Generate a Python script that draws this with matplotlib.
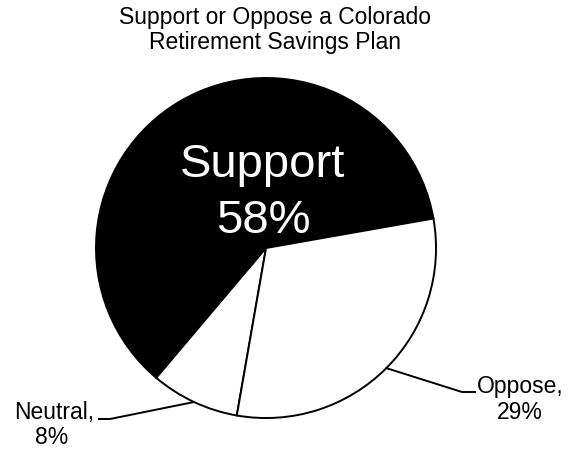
import numpy as np
import matplotlib
matplotlib.use("Agg")
import matplotlib.pyplot as plt

plt.rcParams['font.family'] = ['Liberation Sans', 'DejaVu Sans']

title = "Support or Oppose a Colorado\nRetirement Savings Plan"
labels = ["Support", "Neutral", "Oppose"]
values = [58, 8, 29]
colors = ["black", "white", "white"]
explode = [0.0, 0.0, 0.03]

W, H = 570, 449
fig = plt.figure(figsize=(W / 100, H / 100), dpi=100)
ax = fig.add_axes([0, 0, 1, 1])
ax.set_aspect('equal')
ax.axis('off')

cx, cy, r = 266, H - 248, 170
wedges, _ = ax.pie(values, colors=colors, startangle=10, counterclock=True,
                   explode=explode, center=(cx, cy), radius=r,
                   wedgeprops=dict(edgecolor='black', linewidth=1.4))
ax.set_xlim(0, W)
ax.set_ylim(0, H)

fig.text(0.483, 1 - 30 / H, title, ha='center', va='center', fontsize=16.5,
         linespacing=1.15)

# big label inside the Support wedge
ax.text(263, H - 177, labels[0], color='white', ha='center', va='baseline',
        fontsize=34)
ax.text(263, H - 233, f"{values[0]}%", color='white', ha='center',
        va='baseline', fontsize=34)

def rim(w):
    t = np.deg2rad(0.5 * (w.theta1 + w.theta2))
    x0, y0 = w.center
    return x0 + w.r * np.cos(t), y0 + w.r * np.sin(t)

# Oppose label with leader
px, py = rim(wedges[2])
ax.plot([px, 462, 475], [py, H - 392, H - 392], color='black', lw=1.4)
ax.text(520, H - 393, f"{labels[2]},", ha='center', va='baseline', fontsize=16.5)
ax.text(520, H - 419, f"{values[2]}%", ha='center', va='baseline', fontsize=16.5)

# Neutral label with leader
nx, ny = rim(wedges[1])
ax.plot([nx, 110, 99], [ny, H - 419, H - 419], color='black', lw=1.4)
ax.text(54, H - 419, f"{labels[1]},", ha='center', va='baseline', fontsize=16.5)
ax.text(52, H - 444, f"{values[1]}%", ha='center', va='baseline', fontsize=16.5)

fig.savefig("out.png", dpi=100, facecolor='white')
